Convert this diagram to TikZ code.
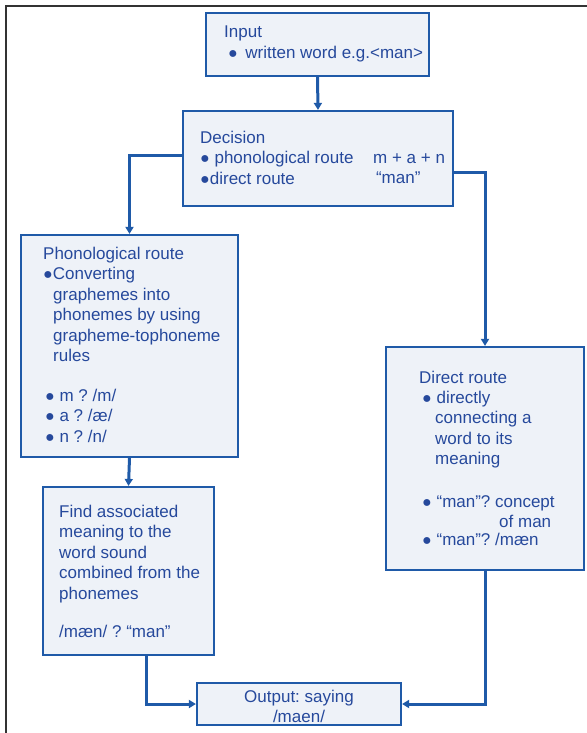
\documentclass[tikz,border=0pt]{standalone}
\usepackage{fontspec}
\setmainfont{Liberation Sans}
\usetikzlibrary{arrows.meta}
\definecolor{lineblue}{HTML}{1F5AA8}
\definecolor{txtblue}{HTML}{26499C}
\definecolor{boxfill}{HTML}{EEF2F8}
\definecolor{framegray}{HTML}{333333}
\newcommand{\bul}{{\fontsize{16}{16}\selectfont ●}}
\frenchspacing
\begin{document}
\begin{tikzpicture}[x=1pt,y=-1pt,
  box/.style={draw=lineblue,line width=2.2pt,fill=boxfill,inner sep=0pt,rectangle},
  txt/.style={text=txtblue,inner sep=0pt,align=left,anchor=base west,
    font=\fontsize{17}{20.5}\selectfont},
  conn/.style={draw=lineblue,line width=3pt,-{Triangle[length=7pt,width=8pt]}}]
\useasboundingbox (0,0) rectangle (586,733);
\draw[framegray,line width=2pt] (6,740) -- (6,6) -- (590,6);
% boxes
\node[box,minimum width=223pt,minimum height=63pt] (input) at (317.5,44.5) {};
\node[box,minimum width=270pt,minimum height=95pt] (decision) at (318,158.5) {};
\node[box,minimum width=217pt,minimum height=222pt] (phon) at (129.5,346) {};
\node[box,minimum width=198pt,minimum height=223pt] (direct) at (485,458.5) {};
\node[box,minimum width=171pt,minimum height=168pt] (find) at (128.5,571) {};
\node[box,minimum width=204pt,minimum height=42pt] (output) at (299,704) {};
% texts (base anchor = baseline of the last line)
\node[txt] (tin1) at (224,38) {Input};
\node[txt] (tin2) at (228,59) {\bul\ \,written word e.g.<man>};
\node[txt] (tdec) at (200,184) {Decision\\\bul\ phonological route\\\bul direct route};
\node[txt] (tdec2) at (373,183.5) {m + a + n\\\,“man”};
\node[txt] (tph1) at (43,361.5) {Phonological route\\\bul Converting\\\hspace{10pt}graphemes into\\\hspace{10pt}phonemes by using\\\hspace{10pt}grapheme-tophoneme\\\hspace{10pt}rules};
\node[txt] (tph2) at (45,442) {\bul\ m ? /m/\\\bul\ a ? /æ/\\\bul\ n ? /n/};
\node[txt] (tdr1) at (419,383) {Direct route};
\node[txt] (tdr2) at (422,464.5) {\bul\ directly\\\hspace{13pt}connecting a\\\hspace{13pt}word to its\\\hspace{13pt}meaning};
\node[txt] (tdr3) at (422,507) {\bul\ “man”? concept};
\node[txt] (tdr4) at (499,527) {of man};
\node[txt] (tdr5) at (422,545) {\bul\ “man”? /mæn};
\node[txt] (tfd1) at (59,599) {Find associated\\meaning to the\\word sound\\combined from the\\phonemes};
\node[txt] (tfd2) at (59,637) {/mæn/ ? “man”};
\node[txt,align=center,anchor=base] (tout) at (299,722.5) {Output: saying\\/maen/};
% connectors
\draw[conn] (input.south) -- (decision.north);
\draw[conn] ([yshift=3.5pt]decision.west) -| (phon.north);
\draw[conn] ([yshift=-13.5pt]decision.east) -| (direct.north);
\draw[conn] (phon.south) -- (find.north);
\draw[conn] ([xshift=18pt]find.south) |- (output.west);
\draw[conn] (direct.south) |- (output.east);
\end{tikzpicture}
\end{document}
